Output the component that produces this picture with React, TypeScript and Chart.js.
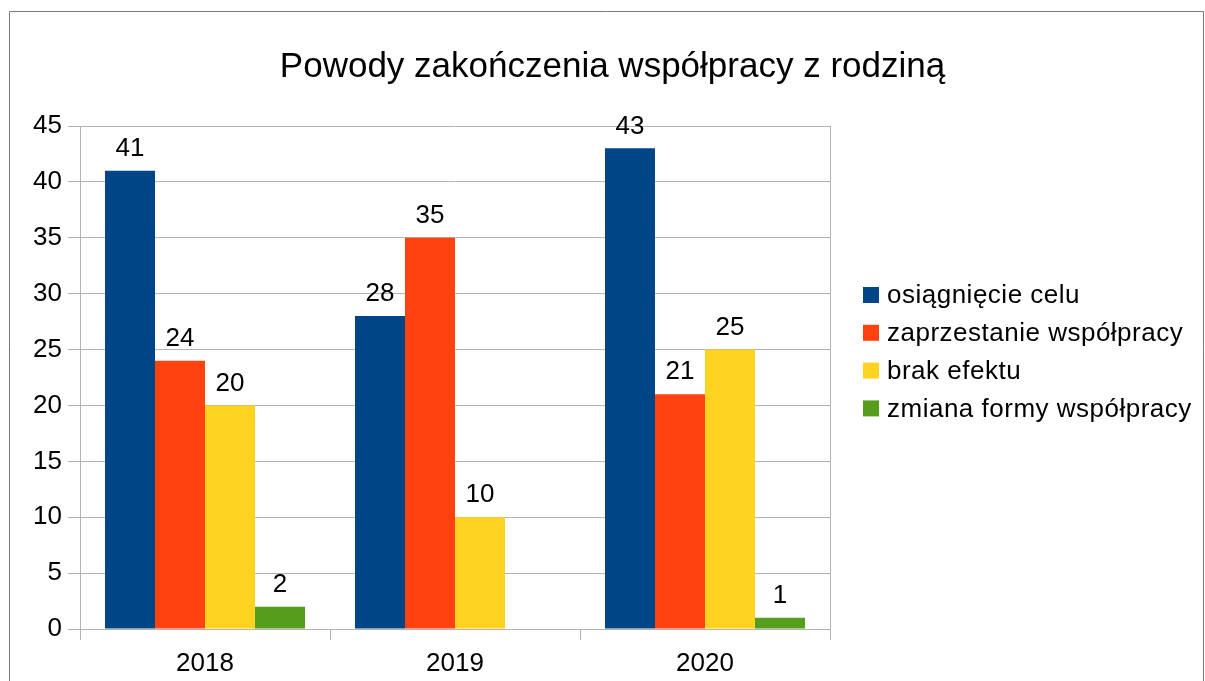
import React, { useEffect, useRef } from "react";
import { Chart, registerables } from "chart.js";

Chart.register(...registerables);

const TITLE = "Powody zakończenia współpracy z rodziną";
const categories = ["2018", "2019", "2020"];
const seriesNames = [
  "osiągnięcie celu",
  "zaprzestanie współpracy",
  "brak efektu",
  "zmiana formy współpracy",
];
const seriesColors = ["#004586", "#ff420e", "#ffd320", "#579d1c"];
const osiagniecieCelu = [41, 28, 43];
const zaprzestanieWspolpracy = [24, 35, 21];
const brakEfektu = [20, 10, 25];
const zmianaFormy: (number | null)[] = [2, null, 1];
const Y_MIN = 0;
const Y_MAX = 45;
const Y_STEP = 5;

const FONT = "'Liberation Sans', Arial, sans-serif";
const TEXT_SIZE = 26;

const framePlugin = {
  id: "frame",
  beforeDraw(chart: any) {
    const ctx = chart.ctx;
    ctx.save();
    ctx.fillStyle = "#ffffff";
    ctx.fillRect(0, 0, chart.width, chart.height);
    ctx.strokeStyle = "#7a7a7a";
    ctx.lineWidth = 1;
    ctx.beginPath();
    ctx.moveTo(9.5, chart.height + 5);
    ctx.lineTo(9.5, 11.5);
    ctx.lineTo(1203.5, 11.5);
    ctx.lineTo(1203.5, chart.height + 5);
    ctx.stroke();
    ctx.restore();
  },
};

const valueLabelPlugin = {
  id: "valueLabels",
  afterDatasetsDraw(chart: any) {
    const ctx = chart.ctx;
    ctx.save();
    ctx.font = `${TEXT_SIZE}px ${FONT}`;
    ctx.fillStyle = "#000000";
    ctx.textAlign = "center";
    ctx.textBaseline = "middle";
    chart.data.datasets.forEach((ds: any, i: number) => {
      const meta = chart.getDatasetMeta(i);
      meta.data.forEach((bar: any, j: number) => {
        const v = ds.data[j];
        if (v === null || v === undefined) return;
        ctx.fillText(String(v), bar.x, bar.y - 22);
      });
    });
    ctx.restore();
  },
};

const legendPlugin = {
  id: "sideLegend",
  afterDraw(chart: any) {
    const ctx = chart.ctx;
    ctx.save();
    ctx.font = `${TEXT_SIZE}px ${FONT}`;
    ctx.textBaseline = "middle";
    ctx.textAlign = "left";
    try {
      (ctx as any).letterSpacing = "0.5px";
    } catch (e) {}
    chart.data.datasets.forEach((ds: any, i: number) => {
      const cy = 295 + i * 37.8;
      ctx.fillStyle = ds.backgroundColor;
      ctx.fillRect(863, cy - 8, 16, 16);
      ctx.fillStyle = "#000000";
      ctx.fillText(ds.label, 887, cy + 1);
    });
    ctx.restore();
  },
};

export default function App() {
  const ref = useRef<HTMLCanvasElement | null>(null);

  useEffect(() => {
    if (!ref.current) return;
    const values = [osiagniecieCelu, zaprzestanieWspolpracy, brakEfektu, zmianaFormy];
    const chart = new Chart(ref.current, {
      type: "bar",
      data: {
        labels: categories,
        datasets: seriesNames.map((name, i) => ({
          label: name,
          data: values[i] as any,
          backgroundColor: seriesColors[i],
          borderWidth: 0,
          categoryPercentage: 0.8,
          barPercentage: 1.0,
        })),
      },
      options: {
        responsive: false,
        animation: false,
        devicePixelRatio: 1,
        layout: { padding: { left: 20, right: 0, top: 0, bottom: 0 } },
        plugins: {
          legend: { display: false },
          tooltip: { enabled: false },
          title: {
            display: true,
            text: TITLE,
            color: "#000000",
            font: { family: FONT, size: 35, weight: "normal", lineHeight: 1.2 },
            padding: { top: 46, bottom: 38 },
          },
        },
        scales: {
          x: {
            offset: true,
            grid: {
              display: true,
              drawOnChartArea: false,
              drawTicks: true,
              tickLength: 11,
              color: "#b3b3b3",
              offset: true,
            },
            border: { display: true, color: "#b3b3b3" },
            ticks: {
              color: "#000000",
              font: { family: FONT, size: TEXT_SIZE },
              padding: 8,
              maxRotation: 0,
            },
            afterFit(scale: any) {
              scale.height = 52;
            },
          },
          y: {
            min: Y_MIN,
            max: Y_MAX,
            grid: {
              color: "#b3b3b3",
              tickLength: 12,
            },
            border: { display: true, color: "#b3b3b3" },
            ticks: {
              stepSize: Y_STEP,
              color: "#000000",
              font: { family: FONT, size: TEXT_SIZE },
              padding: 6,
            },
            afterFit(scale: any) {
              scale.width = 60;
            },
          },
          y2: {
            position: "right",
            display: true,
            grid: { display: false, drawOnChartArea: false },
            border: { display: true, color: "#b3b3b3" },
            ticks: { display: false },
            afterFit(scale: any) {
              scale.width = 375;
            },
          },
        },
      },
      plugins: [framePlugin, valueLabelPlugin, legendPlugin],
    } as any);
    return () => chart.destroy();
  }, []);

  return (
    <canvas
      ref={ref}
      width={1205}
      height={681}
      style={{ position: "absolute", left: 0, top: 0, width: 1205, height: 681, display: "block" }}
    />
  );
}
